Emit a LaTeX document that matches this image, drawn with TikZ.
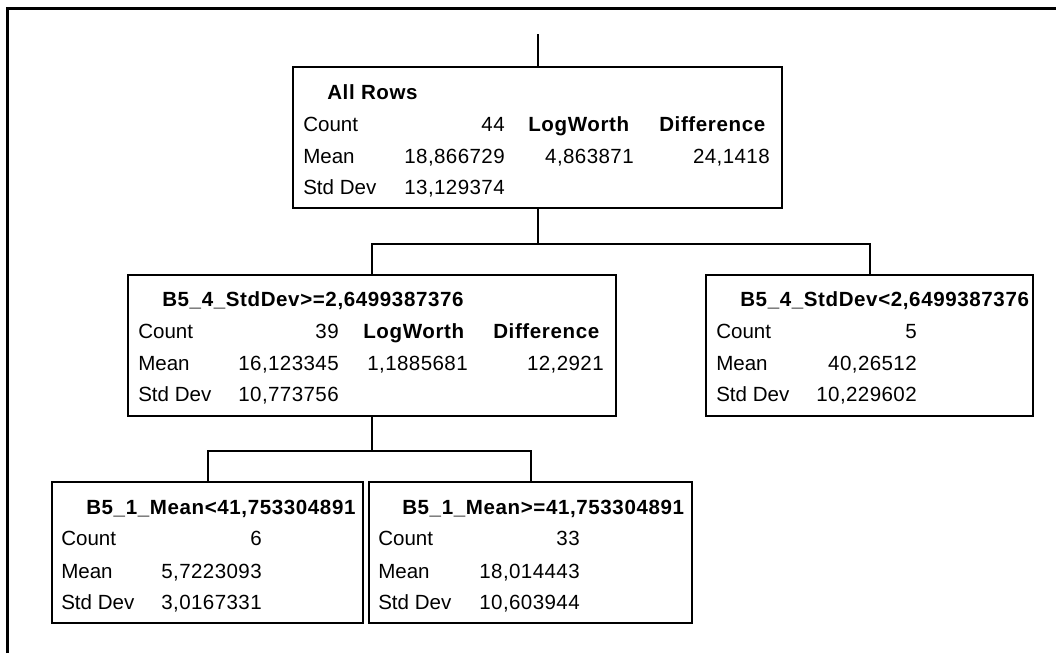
\documentclass[tikz,border=0pt]{standalone}
\usepackage{fontspec}
\setmainfont{Liberation Sans}
\usetikzlibrary{positioning,calc}
\newcommand{\treesize}{\fontsize{15.4}{18}\selectfont}
\tikzset{
  splitbox/.style={draw,line width=1.5pt,minimum height=105.75pt,inner sep=0pt},
  link/.style={line width=1.5pt},
  lbl/.style={anchor=base west,inner sep=0pt,font=\treesize},
  val/.style={anchor=base east,inner sep=0pt,font=\treesize\addfontfeatures{LetterSpace=2}},
  hdr/.style={anchor=base west,inner sep=0pt,font=\treesize\bfseries\addfontfeatures{LetterSpace=3}}
}

\begin{document}
\begin{tikzpicture}[x=0.75pt,y=-0.75pt]
\useasboundingbox (0,0) rectangle (1056,653);
\draw[line width=2.25pt] (7,653)--(7,8.5)--(1056,8.5);
% split boxes
\node[splitbox,minimum width=366.75pt] (root) at (537.5,137.5) {};
\node[splitbox,minimum width=366pt] (midL) at (372,345) {};
\node[splitbox,minimum width=245.25pt] (midR) at (869.5,345) {};
\node[splitbox,minimum width=233.25pt] (botL) at (207.5,552.5) {};
\node[splitbox,minimum width=242.25pt] (botR) at (530.5,552.5) {};
% connectors
\coordinate (stem) at (537.5,34);
\coordinate (fork1) at ($(root.south)+(0,35)$);
\coordinate (fork2) at ($(midL.south)+(0,34)$);
\draw[link] (stem)--(root.north);
\draw[link] (root.south)--(fork1);
\draw[link] (midL.north) |- (fork1) -| (midR.north);
\draw[link] (midL.south)--(fork2);
\draw[link] (botL.north) |- (fork2) -| (botR.north);
% all rows
\node[hdr] (rootT) at ($(root.north west)+(35,33)$) {All Rows};
\node[lbl] (rootC) at ($(root.north west)+(11,65)$) {Count};
\node[lbl] (rootM) at ($(root.north west)+(11,97)$) {Mean};
\node[lbl] (rootS) at ($(root.north west)+(11,128)$) {Std Dev};
\node[val] (rootCv) at ($(root.north west)+(213,65)$) {44};
\node[val] (rootMv) at ($(root.north west)+(213,97)$) {18,866729};
\node[val] (rootSv) at ($(root.north west)+(213,128)$) {13,129374};
\node[hdr] (rootLW) at ($(root.north west)+(236,65)$) {LogWorth};
\node[val] (rootLWv) at ($(root.north west)+(342,97)$) {4,863871};
\node[hdr] (rootD) at ($(root.north west)+(367,65)$) {Difference};
\node[val] (rootDv) at ($(root.north west)+(478,97)$) {24,1418};
% left split
\node[hdr] (midLT) at ($(midL.north west)+(35,33)$) {B5\_4\_StdDev>=2,6499387376};
\node[lbl] (midLC) at ($(midL.north west)+(11,65)$) {Count};
\node[lbl] (midLM) at ($(midL.north west)+(11,97)$) {Mean};
\node[lbl] (midLS) at ($(midL.north west)+(11,128)$) {Std Dev};
\node[val] (midLCv) at ($(midL.north west)+(212,65)$) {39};
\node[val] (midLMv) at ($(midL.north west)+(212,97)$) {16,123345};
\node[val] (midLSv) at ($(midL.north west)+(212,128)$) {10,773756};
\node[hdr] (midLLW) at ($(midL.north west)+(236,65)$) {LogWorth};
\node[val] (midLLWv) at ($(midL.north west)+(341,97)$) {1,1885681};
\node[hdr] (midLD) at ($(midL.north west)+(366,65)$) {Difference};
\node[val] (midLDv) at ($(midL.north west)+(477,97)$) {12,2921};
% right split
\node[hdr] (midRT) at ($(midR.north west)+(35,33)$) {B5\_4\_StdDev<2,6499387376};
\node[lbl] (midRC) at ($(midR.north west)+(11,65)$) {Count};
\node[lbl] (midRM) at ($(midR.north west)+(11,97)$) {Mean};
\node[lbl] (midRS) at ($(midR.north west)+(11,128)$) {Std Dev};
\node[val] (midRCv) at ($(midR.north west)+(212,65)$) {5};
\node[val] (midRMv) at ($(midR.north west)+(212,97)$) {40,26512};
\node[val] (midRSv) at ($(midR.north west)+(212,128)$) {10,229602};
% lower splits
\node[hdr] (botLT) at ($(botL.north west)+(35,33)$) {B5\_1\_Mean<41,753304891};
\node[lbl] (botLC) at ($(botL.north west)+(10,64)$) {Count};
\node[lbl] (botLM) at ($(botL.north west)+(10,97)$) {Mean};
\node[lbl] (botLS) at ($(botL.north west)+(10,128)$) {Std Dev};
\node[val] (botLCv) at ($(botL.north west)+(211,64)$) {6};
\node[val] (botLMv) at ($(botL.north west)+(211,97)$) {5,7223093};
\node[val] (botLSv) at ($(botL.north west)+(211,128)$) {3,0167331};
\node[hdr] (botRT) at ($(botR.north west)+(34,33)$) {B5\_1\_Mean>=41,753304891};
\node[lbl] (botRC) at ($(botR.north west)+(10,64)$) {Count};
\node[lbl] (botRM) at ($(botR.north west)+(10,97)$) {Mean};
\node[lbl] (botRS) at ($(botR.north west)+(10,128)$) {Std Dev};
\node[val] (botRCv) at ($(botR.north west)+(212,64)$) {33};
\node[val] (botRMv) at ($(botR.north west)+(212,97)$) {18,014443};
\node[val] (botRSv) at ($(botR.north west)+(212,128)$) {10,603944};
\end{tikzpicture}
\end{document}
